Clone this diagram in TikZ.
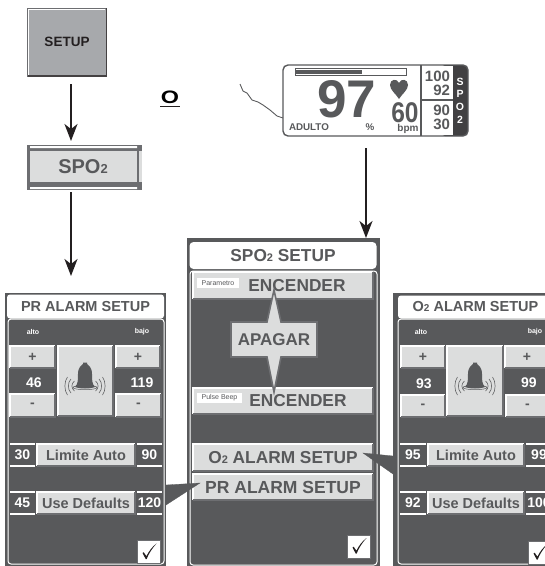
\documentclass[tikz,border=0pt]{standalone}
\usepackage{fontspec}
\setmainfont{Liberation Sans}
\usetikzlibrary{arrows.meta,calc}
\definecolor{panel}{HTML}{58595B}
\definecolor{band}{HTML}{414042}
\definecolor{btnfill}{HTML}{DCDDDD}
\definecolor{btnedge}{HTML}{6D6E71}
\definecolor{setupfill}{HTML}{A7A9AC}
\definecolor{ink}{HTML}{231F20}
\newcommand\fs[1]{\fontsize{#1}{#1}\selectfont\bfseries}
\newcommand\subtwo[1]{{\fontsize{#1}{#1}\selectfont\bfseries 2}}
\tikzset{
  box/.style={inner sep=0pt,outer sep=0pt,rectangle,align=center},
  btnbox/.style={box,fill=btnfill,text=panel},
  flow/.style={draw=ink,line width=1.6pt,-{Stealth[length=17pt,width=13pt,inset=5pt]}},
  txt/.style={inner sep=0pt,outer sep=0pt,align=center},
  lab/.style={txt,text=white},
  val/.style={box,fill=panel,text=white},
  pointer/.style={fill=panel,draw=panel,line width=.3pt},
}
% name x1 y1 x2 y2 font-size text
\newcommand\btn[7]{%
  \pgfmathsetmacro\bw{#4-#2}\pgfmathsetmacro\bh{#5-#3}%
  \pgfmathsetmacro\bx{(#2+#4)/2}\pgfmathsetmacro\by{(#3+#5)/2}%
  \node[btnbox,minimum width=\bw pt,minimum height=\bh pt,font=\fs{#6}] (#1) at (\bx,\by) {#7};
  \draw[white,line width=1.1pt] (#1.south west) -- (#1.north west) -- (#1.north east);
  \draw[btnedge,line width=1.5pt] (#1.north east) -- (#1.south east) -- (#1.south west);
}
% value box with white rules
\newcommand\valbox[6]{%
  \pgfmathsetmacro\bw{#4-#2}\pgfmathsetmacro\bh{#5-#3}%
  \pgfmathsetmacro\bx{(#2+#4)/2}\pgfmathsetmacro\by{(#3+#5)/2}%
  \node[val,minimum width=\bw pt,minimum height=\bh pt,font=\fs{14}] (#1) at (\bx,\by) {#6};
  \draw[white,line width=1.1pt] (#1.north west) -- (#1.north east) (#1.south west) -- (#1.south east);
}
\newcommand\checkbox[3]{%
  \node[box,fill=white,draw=btnedge,line width=.6pt,minimum width=23pt,minimum height=23pt] (#1) at (#2,#3) {};
  \fill[ink] ($(#1.center)+(-6.5,1)$) -- ($(#1.center)+(-5.3,0.2)$) -- ($(#1.center)+(-2.6,4.2)$)
     .. controls ($(#1.center)+(0,-1)$) and ($(#1.center)+(3,-5)$) .. ($(#1.center)+(7.5,-8.5)$)
     .. controls ($(#1.center)+(3,-3.5)$) and ($(#1.center)+(-0.5,2)$) .. ($(#1.center)+(-2.4,7.2)$)
     -- ($(#1.center)+(-3.2,7.2)$) -- cycle;
}
\newcommand\bell[1]{%
  \fill[panel] ($(#1)+(-10,5)$) .. controls ($(#1)+(-7,2)$) and ($(#1)+(-7,-2)$) .. ($(#1)+(-7,-8)$)
     .. controls ($(#1)+(-7,-15)$) and ($(#1)+(-3,-17)$) .. ($(#1)+(-2,-18)$)
     -- ($(#1)+(-2,-19.5)$) -- ($(#1)+(2,-19.5)$) -- ($(#1)+(2,-18)$)
     .. controls ($(#1)+(3,-17)$) and ($(#1)+(7,-15)$) .. ($(#1)+(7,-8)$)
     .. controls ($(#1)+(7,-2)$) and ($(#1)+(7,2)$) .. ($(#1)+(10,5)$)
     .. controls ($(#1)+(5,7)$) and ($(#1)+(-5,7)$) .. cycle;
  \draw[panel,line width=.5pt] ($(#1)+(0,5.5)$) ellipse [x radius=12pt,y radius=2.2pt];
  \foreach \d/\h in {13/5,16.5/7,20/9}{
    \draw[panel,line width=.55pt] ($(#1)+(\d-2.5,4-\h)$) .. controls ($(#1)+(\d+1,4-\h/2)$) and ($(#1)+(\d+1,4+\h/2)$) .. ($(#1)+(\d-2.5,4+\h)$);
    \draw[panel,line width=.55pt] ($(#1)+(-\d+2.5,4-\h)$) .. controls ($(#1)+(-\d-1,4-\h/2)$) and ($(#1)+(-\d-1,4+\h/2)$) .. ($(#1)+(-\d+2.5,4+\h)$);
  }
}
\begin{document}
\begin{tikzpicture}[x=1pt,y=-1pt]
\useasboundingbox (0,0) rectangle (545,566);
\clip (0,0) rectangle (545,566);

% SETUP
\node[box,fill=setupfill,text=ink,draw=btnedge,line width=.6pt,minimum width=79pt,minimum height=68pt,font=\fs{13.5}] (setup) at (67,42) {SETUP};
\draw[white,line width=1.3pt] ([shift={(1.2,-1.2)}]setup.south west) |- ([shift={(-1.2,1.2)}]setup.north east);
\draw[ink!85,line width=1.8pt] (setup.north east) -- (setup.south east) -- (setup.south west);

% SPO2 menu item
\fill[btnedge] (27,145) rectangle (142,190);
\fill[white] (30,146) rectangle (137,148) (30,187) rectangle (137,189);
\fill[btnfill] (139,151) rectangle (142,182);
\node[btnbox,minimum width=107pt,minimum height=31pt,font=\fs{20}] (spo) at (83,166.5) {SPO\subtwo{13}};

\node[txt,font=\fs{18}] (oword) at (170,97) {\scalebox{1.3}[1]{O}};
\draw[ink,line width=1.6pt] (160,106.5) -- (180,106.5);

% Monitor
\node[box,fill=white,minimum width=185pt,minimum height=71pt,rounded corners=5pt] (monitor) at (375.5,100.5) {};
\fill[band,rounded corners=5pt] (440,65) rectangle (468,136);
\fill[white] (440,66) rectangle (453,135);
\draw[panel,line width=1.4pt,rounded corners=5pt] (monitor.south west) rectangle (monitor.north east);
\draw[panel,line width=1.1pt] (421,65) -- (421,136) (421,100) -- (453,100);
\draw[panel,line width=1pt,fill=white] (295,68.5) rectangle (406,75.5);
\fill[panel] (296,70) rectangle (362,74);
\coordinate (wave) at (240,84);
\draw[panel,line width=.9pt] (wave) -- (243,91) -- (247,93) -- (252,100) -- (258,102) -- (263,105) -- (270,110) -- (277,116) -- (monitor.west |- 0,118);
\node[txt,text=panel,font=\fs{53}] (pct) at (347,99) {97};
\fill[panel] (399,99) .. controls (396,94) and (390,90) .. (390,85) .. controls (390,79) and (397,78) .. (399,83) .. controls (401,78) and (408,79) .. (408,85) .. controls (408,90) and (402,94) .. (399,99) -- cycle;
\node[txt,text=panel,font=\fs{28.5}] (rate) at (405,112.5) {\scalebox{.86}[1]{60}};
\node[txt,text=panel,font=\fs{9.8},anchor=west] (adult) at (289,127.5) {ADULTO};
\node[txt,text=panel,font=\fs{9.8}] (pctunit) at (370,127.5) {\%};
\node[txt,text=panel,font=\fs{10}] (bpm) at (408,129) {bpm};
\node[txt,text=panel,font=\fs{15},anchor=east] (hi1) at (450,76) {100};
\node[txt,text=panel,font=\fs{15},anchor=east] (hi2) at (450,90) {92};
\node[txt,text=panel,font=\fs{15},anchor=east] (lo1) at (450,110) {90};
\node[txt,text=panel,font=\fs{15},anchor=east] (lo2) at (450,124) {30};
\node[lab,font=\fs{10.5}] (vs) at (460,82) {S};
\node[lab,font=\fs{10.5}] (vp) at (460,94) {P};
\node[lab,font=\fs{10.5}] (vo) at (460,107) {O};
\node[lab,font=\fs{10.5}] (vt) at (460,120) {2};

% Centre panel
\node[box,fill=panel,minimum width=193pt,minimum height=330pt] (cpanel) at (283,403) {};
\node[box,fill=white,rounded corners=4pt,text=panel,font=\fs{17.3},minimum width=187pt,minimum height=27pt] (ctitle) at (283,255.5) {SPO\subtwo{11} SETUP};
\node[box,draw=white,line width=1pt,rounded corners=3pt,minimum width=187pt,minimum height=294pt] (cframe) at (283.5,418) {};
\btn{enca}{193}{272}{373}{299}{17.3}{\hspace*{28pt}ENCENDER}
\node[box,fill=white,text=panel,font=\fontsize{7}{7}\selectfont,minimum width=42pt,minimum height=10pt] (parm) at (218,283) {Parametro};
\btn{encb}{193}{388}{373}{414}{17.3}{\hspace*{30pt}ENCENDER}
\node[box,fill=white,text=panel,font=\fontsize{7}{7}\selectfont,minimum width=45pt,minimum height=10pt] (pbeep) at (219.5,398) {Pulse Beep};
\draw[btnedge,line width=1.6pt,fill=btnfill] (274,290) -- (281,322) -- (317,322) -- (317,357) -- (281,357) -- (274,392) -- (267,357) -- (231,357) -- (231,322) -- (267,322) -- cycle;
\node[txt,text=panel,font=\fs{17}] (apagar) at (274,340) {APAGAR};
\btn{oset}{193}{444}{373}{471}{17.3}{O\subtwo{11} ALARM SETUP}
\btn{prset}{193}{474}{373}{500}{17.5}{PR ALARM SETUP}
\checkbox{ccheck}{359}{546.5}

% Left panel
\node[box,fill=panel,minimum width=161pt,minimum height=273pt] (lpanel) at (85.5,429.5) {};
\node[box,fill=white,rounded corners=3pt,text=panel,font=\fs{14.5},minimum width=157pt,minimum height=24pt] (ltitle) at (85.5,306.5) {PR ALARM SETUP};
\node[box,draw=white,line width=1pt,rounded corners=3pt,minimum width=156pt,minimum height=245pt] (lframe) at (86,441.5) {};
\node[lab,font=\fs{7}] (lalto) at (33,332) {alto};
\node[lab,font=\fs{7}] (lbajo) at (142,332) {bajo};
\btn{lpa}{10}{346}{55}{368}{14}{+}
\btn{lpb}{116}{346}{160}{368}{14}{+}
\btn{lbell}{58}{346}{113}{416}{14}{}
\bell{85,382}
\node[lab,font=\fs{14}] (lva) at (34,383) {46};
\node[lab,font=\fs{14}] (lvb) at (142,383) {119};
\btn{lma}{10}{394}{55}{417}{14}{-}
\btn{lmb}{116}{394}{161}{417}{14}{-}
\valbox{la}{10}{444}{35}{466}{30}
\btn{llim}{37}{444}{135}{466}{14.5}{Limite Auto}
\valbox{lb}{137}{444}{162}{466}{90}
\valbox{lc}{10}{492}{35}{514}{45}
\btn{ldef}{37}{492}{135}{514}{14.5}{Use Defaults}
\valbox{ld}{137}{492}{162}{514}{120}
\checkbox{lcheck}{149}{552}

% Right panel
\node[box,fill=panel,minimum width=160pt,minimum height=273pt] (rpanel) at (473,429.5) {};
\node[box,fill=white,rounded corners=3pt,text=panel,font=\fs{14.5},minimum width=155pt,minimum height=23pt] (rtitle) at (475.5,307) {O\subtwo{10} ALARM SETUP};
\node[box,draw=white,line width=1pt,rounded corners=3pt,minimum width=160pt,minimum height=245pt] (rframe) at (478,441.5) {};
\node[lab,font=\fs{7}] (ralto) at (421,332) {alto};
\node[lab,font=\fs{7}] (rbajo) at (535,332) {bajo};
\btn{rpa}{401}{346}{445}{368}{14}{+}
\btn{rpb}{505}{346}{549}{368}{14}{+}
\btn{rbell}{447}{346}{503}{416}{14}{}
\bell{475,382}
\node[lab,font=\fs{14}] (rva) at (424,384) {93};
\node[lab,font=\fs{14}] (rvb) at (529,383) {99};
\btn{rma}{401}{395}{445}{417}{14}{-}
\btn{rmb}{506}{395}{549}{417}{14}{-}
\valbox{ra}{400}{444}{426}{466}{95}
\btn{rlim}{428}{444}{524}{466}{14.5}{Limite Auto}
\valbox{rb}{526}{444}{552}{466}{99}
\valbox{rc}{400}{492}{426}{514}{92}
\btn{rdef}{428}{492}{524}{514}{14.5}{Use Defaults}
\valbox{rd}{526}{492}{552}{514}{100}
\checkbox{rcheck}{540}{552.5}

% Pointers
\coordinate (ptrl) at (200,483);
\coordinate (ptrr) at (363,453);
\fill[pointer] (lpanel.east |- 0,485) -- (ptrl) -- (lpanel.east |- 0,505) -- cycle;
\fill[pointer] (ptrr) -- (rpanel.west |- 0,456) -- (rpanel.west |- 0,474) -- cycle;

% Flow arrows
\coordinate (a1s) at (71,84);
\coordinate (a1e) at (71,141);
\coordinate (a2s) at (71,192);
\coordinate (a2e) at (71,276);
\coordinate (a3s) at (366,148);
\coordinate (a3e) at (366,238);
\draw[flow] (a1s) -- (a1e);
\draw[flow] (a2s) -- (a2e);
\draw[flow] (a3s) -- (a3e);
\end{tikzpicture}
\end{document}
